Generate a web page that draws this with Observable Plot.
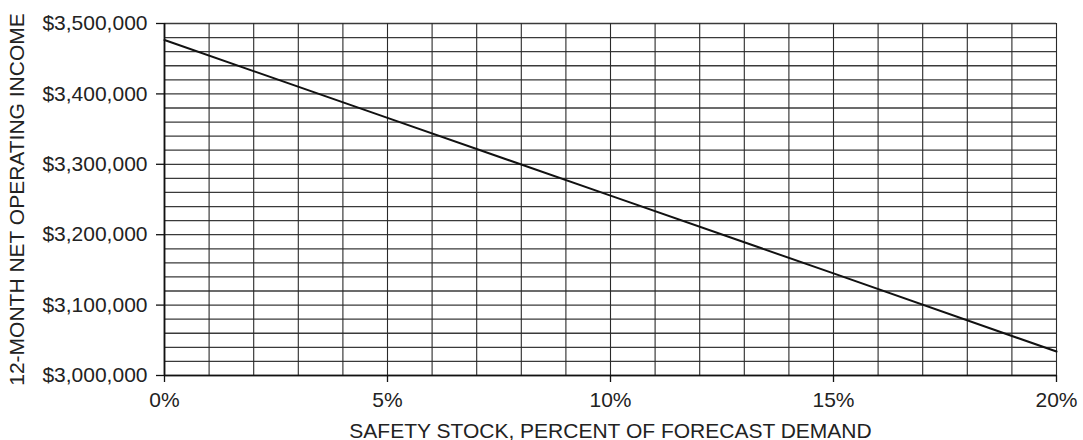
<!DOCTYPE html>
<html>
<head>
<meta charset="utf-8">
<script src="https://cdn.jsdelivr.net/npm/d3@7"></script>
<script src="https://cdn.jsdelivr.net/npm/@observablehq/plot@0.6"></script>
<style>
  html, body { margin: 0; padding: 0; background: #fff; }
</style>
</head>
<body>
<div id="chart"></div>
<script>
// Data
const safetyStockPct = [0, 5, 10, 15, 20];
const netIncome = [3476500, 3366000, 3255500, 3145000, 3034000];

// Axis ticks and grid
const xTickValues = [0, 5, 10, 15, 20];
const yTickValues = [3000000, 3100000, 3200000, 3300000, 3400000, 3500000];
const xGridValues = d3.range(0, 21, 1);
const yGridValues = d3.range(3000000, 3500001, 20000);

const xTitle = "SAFETY STOCK, PERCENT OF FORECAST DEMAND";
const yTitle = "12-MONTH NET OPERATING INCOME";

const data = safetyStockPct.map((x, i) => ({x, y: netIncome[i]}));

const chart = Plot.plot({
  width: 1083,
  height: 440,
  marginLeft: 164,
  marginRight: 27,
  marginTop: 23,
  marginBottom: 65,
  style: {fontFamily: "'Liberation Sans', Arial, sans-serif", fontSize: "21px", color: "#222", background: "#fff"},
  x: {domain: [0, 20]},
  y: {domain: [3000000, 3500000]},
  marks: [
    Plot.ruleY(yGridValues, {stroke: "#3a3a3a", strokeWidth: 1.3}),
    Plot.ruleX(xGridValues, {stroke: "#2a2a2a", strokeWidth: 1.1}),
    Plot.ruleX([0], {stroke: "#111", strokeWidth: 1.8}),
    Plot.ruleY([3000000], {stroke: "#111", strokeWidth: 1.5}),
    Plot.axisY({
      ticks: yTickValues,
      tickFormat: d3.format("$,"),
      tickSize: 8,
      tickPadding: 9,
      stroke: "#111",
      strokeWidth: 1.3,
      fill: "#222",
      label: yTitle,
      labelAnchor: "center",
      labelOffset: 155,
      labelArrow: "none"
    }),
    Plot.axisX({
      ticks: xTickValues,
      tickFormat: d => d + "%",
      tickSize: 7,
      tickPadding: 10,
      stroke: "#111",
      strokeWidth: 1.3,
      fill: "#222",
      label: xTitle,
      labelAnchor: "center",
      labelOffset: 62,
      labelArrow: "none"
    }),
    Plot.line(data, {x: "x", y: "y", stroke: "#111", strokeWidth: 2})
  ]
});

document.getElementById("chart").appendChild(chart);
</script>
</body>
</html>
